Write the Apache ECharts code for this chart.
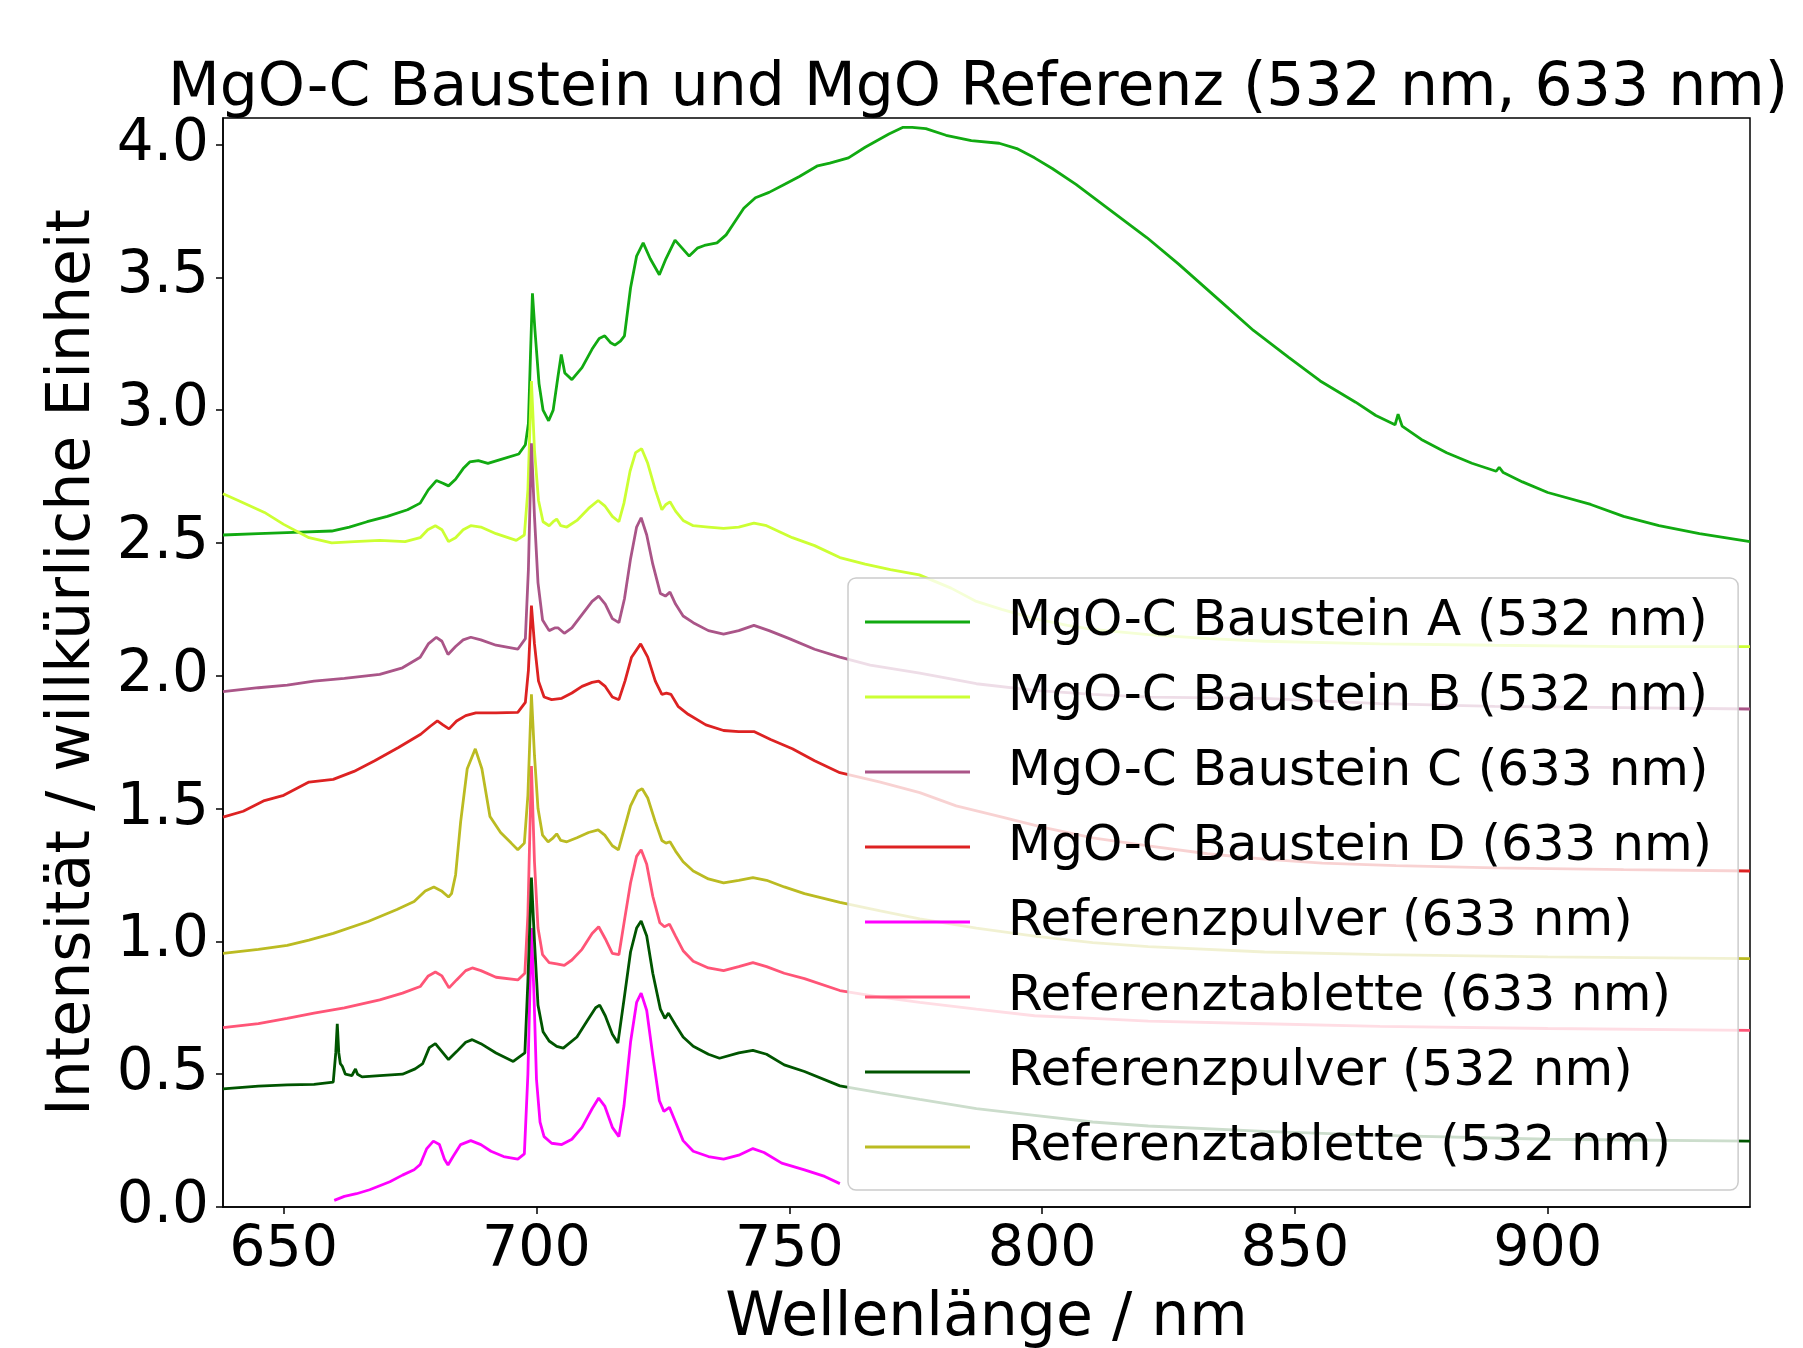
<!DOCTYPE html>
<html>
<head>
<meta charset="utf-8">
<script src="https://cdn.jsdelivr.net/npm/echarts@6/dist/echarts.min.js"></script>
<style>
  html, body { margin: 0; padding: 0; background: #fff; }
  #chart { width: 1803px; height: 1348px; }
</style>
</head>
<body>
<div id="chart"></div>
<script>
// Wellenlänge (nm), Intensität (willkürliche Einheit)
const bausteinA = [
  [638, 2.53], [645, 2.535], [652, 2.54], [659.5, 2.545], [663, 2.56], [666.5, 2.58], [670.5, 2.6], [674.5, 2.625],
  [677, 2.65], [678.6, 2.7], [680.2, 2.735], [681.5, 2.725], [682.6, 2.715], [684, 2.74], [685.5, 2.78], [686.8, 2.805],
  [688.5, 2.81], [690.4, 2.8], [693, 2.815], [696.5, 2.835], [697.8, 2.87], [698.4, 2.95], [698.8, 3.2], [699.2, 3.44],
  [699.7, 3.3], [700.5, 3.1], [701.3, 3.0], [702.4, 2.96], [703.3, 3.0], [704.2, 3.12], [704.9, 3.21], [705.6, 3.14],
  [707, 3.115], [709, 3.16], [711, 3.23], [712.4, 3.27], [713.5, 3.28], [714.6, 3.255], [715.5, 3.245], [716.6, 3.26],
  [717.4, 3.28], [718.6, 3.46], [719.8, 3.58], [721.1, 3.63], [722.5, 3.57], [724.3, 3.51], [725.6, 3.57], [727.4, 3.64],
  [728.8, 3.61], [730.2, 3.58], [731.8, 3.61], [733.2, 3.62], [735.7, 3.63], [737.5, 3.66], [738.9, 3.7], [741, 3.76],
  [743.3, 3.8], [746, 3.82], [749, 3.85], [752, 3.88], [755.6, 3.92], [758, 3.93], [761.7, 3.95], [765, 3.99],
  [769.7, 4.04], [772.5, 4.065], [774.3, 4.065], [777, 4.06], [781, 4.035], [786, 4.015], [791.5, 4.005], [795, 3.985],
  [798.5, 3.95], [802, 3.91], [806.7, 3.85], [813, 3.76], [820.7, 3.65], [827, 3.55], [834.7, 3.42], [841.8, 3.3],
  [848.7, 3.2], [855, 3.11], [862, 3.03], [866, 2.98], [869.8, 2.945], [870.4, 2.985], [871.2, 2.94], [875, 2.89],
  [880, 2.84], [885, 2.8], [889.8, 2.77], [890.4, 2.785], [891.2, 2.765], [895, 2.73], [900, 2.69], [908.5, 2.645],
  [915, 2.6], [922, 2.565], [930, 2.535], [940, 2.505]
];
const bausteinB = [
  [638, 2.685], [641, 2.66], [646.2, 2.615], [650, 2.57], [655, 2.52], [659.5, 2.5], [664, 2.505], [669, 2.51],
  [674, 2.505], [677, 2.52], [678.5, 2.55], [680, 2.565], [681.3, 2.55], [682.6, 2.505], [684, 2.52], [685.5, 2.55],
  [687, 2.565], [689, 2.56], [692, 2.535], [696, 2.51], [697.6, 2.53], [698.3, 2.7], [699, 3.11], [699.6, 2.85],
  [700.4, 2.66], [701.3, 2.58], [702.5, 2.565], [703.3, 2.58], [704, 2.59], [704.8, 2.565], [706, 2.56], [708, 2.585],
  [710.3, 2.63], [712.2, 2.66], [713.5, 2.64], [715, 2.6], [716.3, 2.58], [717.3, 2.65], [718.5, 2.77], [719.6, 2.84],
  [720.8, 2.855], [722, 2.8], [723.5, 2.7], [724.8, 2.625], [725.6, 2.645], [726.4, 2.655], [727.5, 2.62], [729, 2.585],
  [731, 2.565], [734, 2.56], [737, 2.555], [740, 2.56], [743, 2.575], [745.5, 2.565], [750.6, 2.52], [755, 2.49],
  [760, 2.445], [765, 2.42], [770, 2.4], [775.7, 2.38], [782, 2.33], [787, 2.28], [792, 2.25], [798.5, 2.215],
  [805, 2.19], [810, 2.175], [821, 2.155], [833, 2.14], [844, 2.13], [866.8, 2.12], [889.5, 2.115], [915, 2.11], [940, 2.11]
];
const bausteinC = [
  [638, 1.94], [645, 1.955], [650.7, 1.965], [656, 1.98], [662, 1.99], [669, 2.005], [673.5, 2.03], [677, 2.07],
  [678.6, 2.12], [680.2, 2.145], [681.3, 2.13], [682.5, 2.08], [684, 2.11], [685.5, 2.135], [687, 2.145], [689, 2.135],
  [692, 2.115], [696.3, 2.1], [697.8, 2.14], [698.4, 2.4], [699, 2.875], [699.6, 2.6], [700.3, 2.35], [701.2, 2.21],
  [702.5, 2.17], [703.6, 2.18], [704.3, 2.18], [705.5, 2.16], [707, 2.18], [709, 2.23], [711, 2.28], [712.3, 2.3],
  [713.6, 2.27], [715, 2.215], [716.3, 2.2], [717.4, 2.29], [718.6, 2.44], [719.8, 2.56], [720.7, 2.595], [721.8, 2.53],
  [723, 2.42], [724.5, 2.31], [725.5, 2.3], [726.4, 2.315], [727.5, 2.27], [729, 2.225], [731, 2.2], [734, 2.17],
  [737, 2.157], [740, 2.17], [743, 2.19], [746, 2.17], [750, 2.14], [755, 2.1], [760, 2.07], [766, 2.04],
  [775.8, 2.01], [787, 1.97], [798.5, 1.945], [810, 1.93], [821, 1.92], [844, 1.915], [866.8, 1.895], [889.5, 1.885],
  [915, 1.88], [940, 1.875]
];
const bausteinD = [
  [638, 1.468], [642, 1.49], [646.2, 1.53], [650, 1.55], [655, 1.6], [659.8, 1.61], [663.9, 1.64], [668, 1.68],
  [672.7, 1.73], [677.1, 1.78], [679, 1.81], [680.4, 1.83], [681.5, 1.815], [682.7, 1.8], [684.2, 1.83], [686, 1.85],
  [688, 1.86], [692, 1.86], [696.3, 1.862], [697.8, 1.9], [698.4, 2.02], [699, 2.264], [699.6, 2.12], [700.4, 1.98],
  [701.5, 1.92], [703, 1.91], [705, 1.915], [707, 1.935], [709, 1.96], [711, 1.975], [712.3, 1.98], [713.6, 1.96],
  [715, 1.92], [716.3, 1.91], [717.5, 1.98], [718.8, 2.07], [720.6, 2.12], [722, 2.07], [723.5, 1.98], [724.8, 1.93],
  [725.7, 1.935], [726.6, 1.93], [728, 1.885], [730, 1.855], [733.5, 1.815], [737, 1.794], [740, 1.79], [743, 1.79],
  [746.3, 1.76], [750.6, 1.725], [755, 1.68], [760, 1.635], [768, 1.6], [775.8, 1.56], [783, 1.51], [791.7, 1.47],
  [800, 1.43], [810, 1.39], [821, 1.36], [832.7, 1.33], [844, 1.31], [855.4, 1.295], [870, 1.285], [889.5, 1.277],
  [915, 1.27], [940, 1.265]
];
const pulver633 = [
  [660, 0.025], [662, 0.04], [664.4, 0.05], [667, 0.065], [669, 0.08], [671, 0.095], [673.5, 0.12], [675.8, 0.14],
  [677, 0.16], [678.3, 0.22], [679.6, 0.248], [680.8, 0.235], [681.8, 0.18], [682.5, 0.158], [683.5, 0.19], [685, 0.235],
  [687, 0.25], [689, 0.235], [691, 0.21], [693.5, 0.19], [696.3, 0.18], [697.6, 0.2], [698.3, 0.5], [699, 1.05],
  [699.5, 0.8], [700, 0.48], [700.7, 0.32], [701.5, 0.265], [703, 0.24], [705, 0.235], [707, 0.255], [709, 0.3],
  [711, 0.37], [712.3, 0.41], [713.5, 0.38], [715, 0.3], [716.3, 0.265], [717.3, 0.38], [718.6, 0.62], [719.8, 0.77],
  [720.7, 0.805], [721.8, 0.74], [723, 0.57], [724.3, 0.4], [725.2, 0.36], [726.3, 0.375], [727.5, 0.32], [729, 0.25],
  [731, 0.21], [734, 0.19], [737, 0.18], [740, 0.195], [742.8, 0.22], [745, 0.205], [748.5, 0.165], [753, 0.14],
  [757, 0.115], [760, 0.088]
];
const tablette633 = [
  [638, 0.675], [645, 0.69], [650.7, 0.71], [656, 0.73], [662, 0.75], [669, 0.78], [673.5, 0.805], [677, 0.83],
  [678.6, 0.87], [680, 0.885], [681.3, 0.87], [682.7, 0.825], [684.2, 0.855], [686, 0.89], [687.3, 0.9], [689, 0.89],
  [692, 0.865], [696.3, 0.855], [697.7, 0.88], [698.3, 1.1], [699, 1.66], [699.6, 1.3], [700.3, 1.05], [701.2, 0.95],
  [702.5, 0.92], [704, 0.915], [705.5, 0.91], [707, 0.93], [709, 0.97], [711, 1.03], [712.3, 1.055], [713.6, 1.01],
  [715, 0.955], [716.3, 0.95], [717.4, 1.08], [718.6, 1.22], [719.8, 1.32], [720.7, 1.345], [721.8, 1.29], [723, 1.17],
  [724.4, 1.07], [725.3, 1.055], [726.3, 1.065], [727.5, 1.02], [729, 0.965], [731, 0.925], [734, 0.9], [737, 0.89],
  [740, 0.905], [742.8, 0.92], [745.5, 0.905], [749, 0.88], [753, 0.86], [760, 0.815], [768, 0.79], [775.8, 0.77],
  [787, 0.745], [798.5, 0.72], [810, 0.71], [821, 0.7], [844, 0.69], [866.8, 0.68], [900, 0.672], [940, 0.665]
];
const pulver532 = [
  [638, 0.445], [645, 0.455], [650.7, 0.46], [656, 0.462], [659.8, 0.47], [660.3, 0.58], [660.6, 0.69], [660.9, 0.58],
  [661.2, 0.54], [661.6, 0.53], [662.2, 0.5], [663.5, 0.495], [664.2, 0.52], [664.6, 0.5], [665.5, 0.49], [669, 0.495],
  [673.5, 0.5], [676, 0.52], [677.5, 0.54], [678.8, 0.6], [680, 0.615], [681.3, 0.585], [682.6, 0.555], [684.2, 0.585],
  [686, 0.62], [687.3, 0.63], [689, 0.615], [692, 0.58], [695.4, 0.548], [697.7, 0.58], [698.3, 0.85], [699, 1.24],
  [699.6, 1.0], [700.3, 0.76], [701.3, 0.66], [702.5, 0.625], [704, 0.605], [705.3, 0.598], [708, 0.64], [710, 0.7],
  [711.7, 0.75], [712.5, 0.76], [713.6, 0.72], [715, 0.65], [716.1, 0.617], [717.3, 0.78], [718.6, 0.96], [719.8, 1.05],
  [720.7, 1.077], [721.8, 1.02], [723, 0.88], [724.5, 0.745], [725.4, 0.71], [726.1, 0.73], [727.5, 0.685], [729, 0.64],
  [731, 0.605], [734, 0.575], [736.2, 0.56], [740, 0.58], [742.8, 0.59], [745.5, 0.575], [749, 0.535], [753, 0.51],
  [760, 0.456], [768, 0.43], [775.8, 0.405], [787, 0.37], [798.5, 0.345], [810, 0.32], [821, 0.305], [844, 0.285],
  [866.8, 0.27], [900, 0.255], [940, 0.248]
];
const tablette532 = [
  [638, 0.955], [645, 0.97], [650.7, 0.985], [655, 1.005], [659.8, 1.03], [666.7, 1.075], [672.4, 1.12], [675.8, 1.15],
  [678, 1.19], [679.7, 1.205], [681.2, 1.19], [682.6, 1.167], [683.2, 1.18], [684, 1.25], [685, 1.45], [686.3, 1.65],
  [687.9, 1.725], [689.2, 1.65], [690.8, 1.47], [692.9, 1.41], [695, 1.37], [696.3, 1.345], [697.6, 1.37], [698.3, 1.55],
  [699, 1.93], [699.6, 1.7], [700.3, 1.5], [701.2, 1.4], [702.3, 1.375], [703.3, 1.39], [704, 1.405], [704.8, 1.38],
  [706, 1.375], [708, 1.39], [710.3, 1.41], [712.2, 1.42], [713.5, 1.4], [715, 1.36], [716.2, 1.345], [717.3, 1.42],
  [718.6, 1.51], [720, 1.565], [720.9, 1.575], [722, 1.54], [723.5, 1.45], [724.8, 1.38], [725.6, 1.37], [726.4, 1.375],
  [727.5, 1.34], [729, 1.3], [731, 1.265], [734, 1.235], [737, 1.22], [740, 1.23], [742.8, 1.24], [745.5, 1.23],
  [749, 1.205], [753, 1.18], [760, 1.147], [768, 1.115], [775.8, 1.085], [787, 1.05], [798.5, 1.02], [810, 0.995],
  [821, 0.98], [844, 0.96], [866.8, 0.95], [900, 0.942], [940, 0.935]
];

const names = [
  'MgO-C Baustein A (532 nm)',
  'MgO-C Baustein B (532 nm)',
  'MgO-C Baustein C (633 nm)',
  'MgO-C Baustein D (633 nm)',
  'Referenzpulver (633 nm)',
  'Referenztablette (633 nm)',
  'Referenzpulver (532 nm)',
  'Referenztablette (532 nm)'
];
const colors = ['#11aa11', '#ccff33', '#aa5588', '#dd2222', '#ff00ff', '#ff5577', '#005500', '#bbbb22'];
const curves = [bausteinA, bausteinB, bausteinC, bausteinD, pulver633, tablette633, pulver532, tablette532];

const xTicks = [650, 700, 750, 800, 850, 900];
const yTicks = [0, 0.5, 1, 1.5, 2, 2.5, 3, 3.5, 4];

const font = 'DejaVu Sans';

const chart = echarts.init(document.getElementById('chart'));

// Reihenfolge der Serien bestimmt die Zeichenreihenfolge (letzte oben)
const series = curves.map((data, i) => ({
  name: names[i],
  type: 'line',
  data: data,
  symbol: 'none',
  smooth: false,
  lineStyle: { color: colors[i], width: 2.8 },
  itemStyle: { color: colors[i] }
}));

chart.setOption({
  animation: false,
  backgroundColor: '#fff',
  color: colors,
  title: {
    text: 'MgO-C Baustein und MgO Referenz (532 nm, 633 nm)',
    left: 168,
    top: 59,
    padding: 0,
    textStyle: { fontFamily: font, fontSize: 60, fontWeight: 'normal', color: '#000' }
  },
  grid: {
    left: 223,
    right: 53,
    top: 118,
    bottom: 141,
    show: true,
    borderColor: '#000',
    borderWidth: 1.5,
    containLabel: false,
    outerBoundsMode: 'none'
  },
  legend: {
    orient: 'vertical',
    left: 848,
    top: 578,
    z: 20,
    padding: [14, 26, 13, 17],
    itemGap: 15,
    itemWidth: 105,
    itemHeight: 3,
    icon: 'rect',
    backgroundColor: 'rgba(255,255,255,0.8)',
    borderColor: '#cccccc',
    borderWidth: 1.5,
    borderRadius: 8,
    data: names,
    textStyle: { fontFamily: font, fontSize: 50, lineHeight: 60, color: '#000', padding: [0, 0, 0, 33] }
  },
  xAxis: {
    type: 'value',
    min: 638,
    max: 940,
    name: 'Wellenlänge / nm',
    nameLocation: 'middle',
    nameGap: 82,
    nameTextStyle: { fontFamily: font, fontSize: 60, color: '#000' },
    axisLine: { show: true, onZero: false, lineStyle: { color: '#000', width: 1.5 } },
    axisTick: { show: true, length: 7, lineStyle: { color: '#000', width: 1.5 }, customValues: xTicks },
    axisLabel: { fontFamily: font, fontSize: 57, color: '#000', margin: 16, customValues: xTicks },
    splitLine: { show: false }
  },
  yAxis: {
    type: 'value',
    min: 0,
    max: 4.1,
    name: 'Intensität / willkürliche Einheit',
    nameLocation: 'middle',
    nameGap: 120,
    nameRotate: 90,
    nameTextStyle: { fontFamily: font, fontSize: 60, color: '#000' },
    axisLine: { show: true, onZero: false, lineStyle: { color: '#000', width: 1.5 } },
    axisTick: { show: true, length: 7, lineStyle: { color: '#000', width: 1.5 }, customValues: yTicks },
    axisLabel: {
      fontFamily: font, fontSize: 58, color: '#000', margin: 14, customValues: yTicks,
      formatter: v => v.toFixed(1)
    },
    splitLine: { show: false }
  },
  series: series
});
</script>
</body>
</html>
